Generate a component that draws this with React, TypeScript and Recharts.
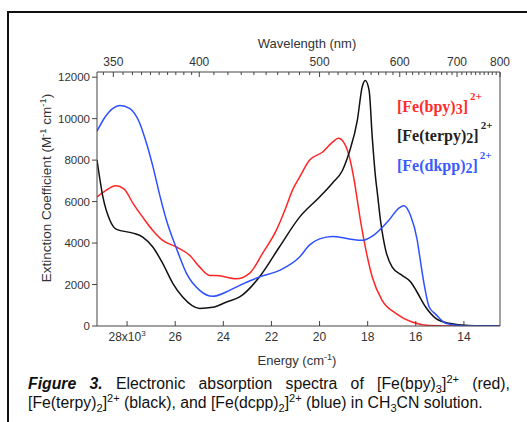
import { LineChart, Line, XAxis, YAxis } from "recharts";

// energies in 10^3 cm-1, extinction in M-1 cm-1, read left to right
const bpyData = [
  { e: 29.25, v: 6230 }, { e: 28.95, v: 6480 }, { e: 28.47, v: 6760 }, { e: 28.12, v: 6600 },
  { e: 27.76, v: 5930 }, { e: 27.35, v: 5250 }, { e: 26.93, v: 4610 }, { e: 26.52, v: 4130 },
  { e: 25.95, v: 3810 }, { e: 25.4, v: 3410 }, { e: 24.98, v: 2840 }, { e: 24.57, v: 2440 },
  { e: 24.17, v: 2420 }, { e: 23.46, v: 2280 }, { e: 22.91, v: 2540 }, { e: 22.37, v: 3500 },
  { e: 21.8, v: 4610 }, { e: 21.39, v: 5740 }, { e: 21.13, v: 6540 }, { e: 20.83, v: 7180 },
  { e: 20.42, v: 7990 }, { e: 19.87, v: 8390 }, { e: 19.46, v: 8870 }, { e: 19.22, v: 9050 },
  { e: 18.97, v: 8810 }, { e: 18.76, v: 8150 }, { e: 18.56, v: 7020 }, { e: 18.43, v: 6060 },
  { e: 18.28, v: 4950 }, { e: 18.07, v: 3650 }, { e: 17.81, v: 2360 }, { e: 17.4, v: 1240 },
  { e: 16.83, v: 610 }, { e: 16.16, v: 190 }, { e: 15.45, v: 30 }, { e: 14.0, v: 0 },
  { e: 12.5, v: 0 },
];

const terpyData = [
  { e: 29.25, v: 8000 }, { e: 29.0, v: 6200 }, { e: 28.71, v: 5090 }, { e: 28.44, v: 4660 },
  { e: 27.76, v: 4480 }, { e: 27.35, v: 4290 }, { e: 26.93, v: 3810 }, { e: 26.52, v: 3020 },
  { e: 26.1, v: 2060 }, { e: 25.69, v: 1400 }, { e: 24.98, v: 850 }, { e: 24.44, v: 900 },
  { e: 23.86, v: 1160 }, { e: 23.32, v: 1400 }, { e: 22.5, v: 2360 }, { e: 21.67, v: 3810 },
  { e: 20.83, v: 5250 }, { e: 20.0, v: 6220 }, { e: 19.46, v: 6900 }, { e: 19.05, v: 7500 },
  { e: 18.76, v: 8400 }, { e: 18.43, v: 9920 }, { e: 18.23, v: 11520 }, { e: 18.1, v: 11840 },
  { e: 17.94, v: 11360 }, { e: 17.81, v: 9110 }, { e: 17.66, v: 7020 }, { e: 17.61, v: 6540 },
  { e: 17.45, v: 4950 }, { e: 17.25, v: 3650 }, { e: 16.98, v: 2840 }, { e: 16.57, v: 2440 },
  { e: 16.21, v: 2120 }, { e: 15.95, v: 1640 }, { e: 15.59, v: 915 }, { e: 15.17, v: 370 },
  { e: 14.62, v: 130 }, { e: 13.8, v: 20 }, { e: 12.5, v: 0 },
];

const dkppData = [
  { e: 29.25, v: 9400 }, { e: 28.92, v: 10070 }, { e: 28.59, v: 10500 }, { e: 28.3, v: 10640 },
  { e: 27.88, v: 10480 }, { e: 27.47, v: 9770 }, { e: 27.19, v: 8800 }, { e: 26.92, v: 7660 },
  { e: 26.64, v: 6300 }, { e: 26.36, v: 5090 }, { e: 25.95, v: 3750 }, { e: 25.53, v: 2540 },
  { e: 24.98, v: 1720 }, { e: 24.44, v: 1430 }, { e: 23.88, v: 1640 }, { e: 23.32, v: 1960 },
  { e: 22.5, v: 2360 }, { e: 21.67, v: 2680 }, { e: 20.83, v: 3330 }, { e: 20.42, v: 3900 },
  { e: 20.0, v: 4200 }, { e: 19.46, v: 4320 }, { e: 18.76, v: 4200 }, { e: 18.23, v: 4130 },
  { e: 17.73, v: 4400 }, { e: 17.12, v: 5100 }, { e: 16.69, v: 5700 }, { e: 16.49, v: 5800 },
  { e: 16.21, v: 5300 }, { e: 15.95, v: 4200 }, { e: 15.79, v: 3000 }, { e: 15.62, v: 1800 },
  { e: 15.45, v: 930 }, { e: 15.17, v: 560 }, { e: 14.76, v: 130 }, { e: 14.21, v: 30 },
  { e: 12.5, v: 0 },
];

const energyTicks = [28, 26, 24, 22, 20, 18, 16, 14];
const yTicks = [0, 2000, 4000, 6000, 8000, 10000, 12000];
const nmMajor = [350, 400, 500, 600, 700, 800];
const nmMinor = [
  345, 355, 360, 365, 370, 375, 380, 385, 390, 395,
  410, 420, 430, 440, 450, 460, 470, 480, 490,
  510, 520, 530, 540, 550, 560, 570, 580, 590,
  610, 620, 630, 640, 650, 660, 670, 680, 690,
  710, 720, 730, 740, 750, 760, 770, 780, 790,
];
const nmTicks = [...nmMajor, ...nmMinor].map((nm) => 10000 / nm);

const axisColor = "#444";
const textColor = "#333";
const font = '"Liberation Sans", Arial, sans-serif';

function TopTick(props: any) {
  const { x, y, payload } = props;
  const nm = Math.round(10000 / payload.value);
  const major = nmMajor.includes(nm);
  return (
    <g>
      <line x1={x} x2={x} y1={y} y2={y + (major ? 5 : 3)} stroke={axisColor} />
      {major && (
        <text x={x} y={y - 6} textAnchor="middle" fontSize={12} fill={textColor} fontFamily={font}>
          {nm}
        </text>
      )}
    </g>
  );
}

function BottomTick(props: any) {
  const { x, y, payload } = props;
  const v = payload.value;
  return (
    <g>
      <line x1={x} x2={x} y1={y} y2={y - 5} stroke={axisColor} />
      <text x={x} y={y + 15} textAnchor="middle" fontSize={12} fill={textColor} fontFamily={font}>
        {v === 28 ? (
          <>
            <tspan>28x10</tspan>
            <tspan dy={-5} fontSize={8}>3</tspan>
          </>
        ) : (
          v
        )}
      </text>
    </g>
  );
}

const sup = { fontSize: "0.7em", verticalAlign: "super", lineHeight: 0 } as const;
const sub = { fontSize: "0.7em", verticalAlign: "sub", lineHeight: 0 } as const;

function LegendItem({ color, top, name, n }: { color: string; top: number; name: string; n: string }) {
  return (
    <div
      style={{
        position: "absolute",
        left: 397,
        top,
        color,
        fontFamily: '"Liberation Serif", "Times New Roman", serif',
        fontWeight: 700,
        fontSize: 16,
        lineHeight: "16px",
        whiteSpace: "nowrap",
      }}
    >
      [Fe({name})<span style={{ fontSize: 14, position: "relative", top: 2 }}>{n}</span>]
      <span style={{ fontSize: 11, position: "relative", top: -12, marginLeft: 2 }}>2+</span>
    </div>
  );
}

export default function App() {
  return (
    <div
      style={{
        position: "absolute",
        left: 0,
        top: 0,
        width: 527,
        height: 422,
        overflow: "hidden",
        background: "#fff",
        fontFamily: font,
      }}
    >
      <div style={{ position: "absolute", left: 7, top: 11, width: 600, height: 500, border: "2px solid #111" }} />
      <div style={{ position: "absolute", left: 0, top: 0 }}>
        <LineChart width={527} height={422} margin={{ top: 42, right: 26, bottom: 56, left: 37 }}>
          <XAxis
            xAxisId="top"
            orientation="top"
            type="number"
            dataKey="e"
            domain={[12.5, 29.25]}
            allowDataOverflow
            reversed
            ticks={nmTicks}
            interval={0}
            tickSize={0}
            tickMargin={0}
            tick={TopTick}
            height={30}
            stroke={axisColor}
          />
          <XAxis
            xAxisId="bottom"
            orientation="bottom"
            type="number"
            dataKey="e"
            domain={[12.5, 29.25]}
            allowDataOverflow
            reversed
            ticks={energyTicks}
            interval={0}
            tickSize={0}
            tickMargin={0}
            tick={BottomTick}
            height={40}
            stroke={axisColor}
          />
          <YAxis
            yAxisId="left"
            domain={[0, 12250]}
            allowDataOverflow
            ticks={yTicks}
            interval={0}
            width={60}
            tickSize={5}
            tickMargin={2}
            stroke={axisColor}
            tick={{ fontSize: 11.5, fill: textColor, fontFamily: font }}
          />
          <YAxis
            yAxisId="right"
            orientation="right"
            domain={[0, 12250]}
            width={1}
            tick={false}
            tickLine={false}
            stroke={axisColor}
          />
          <Line
            xAxisId="bottom"
            yAxisId="left"
            data={bpyData}
            dataKey="v"
            type="monotone"
            stroke="#ff2525"
            strokeWidth={1.5}
            dot={false}
            isAnimationActive={false}
          />
          <Line
            xAxisId="bottom"
            yAxisId="left"
            data={terpyData}
            dataKey="v"
            type="monotone"
            stroke="#111"
            strokeWidth={1.5}
            dot={false}
            isAnimationActive={false}
          />
          <Line
            xAxisId="bottom"
            yAxisId="left"
            data={dkppData}
            dataKey="v"
            type="monotone"
            stroke="#2f50ff"
            strokeWidth={1.5}
            dot={false}
            isAnimationActive={false}
          />
        </LineChart>
      </div>

      <div style={{ position: "absolute", left: 207, top: 37, width: 200, textAlign: "center", fontSize: 13, lineHeight: "13px", color: textColor }}>
        Wavelength (nm)
      </div>
      <div style={{ position: "absolute", left: 197, top: 354, width: 200, textAlign: "center", fontSize: 13, lineHeight: "13px", color: textColor }}>
        Energy (cm<span style={sup}>-1</span>)
      </div>
      <div
        style={{
          position: "absolute",
          left: 47 - 140,
          top: 188 - 7,
          width: 280,
          height: 14,
          textAlign: "center",
          fontSize: 13.5,
          lineHeight: "14px",
          color: textColor,
          transform: "rotate(-90deg)",
          transformOrigin: "center",
          whiteSpace: "nowrap",
        }}
      >
        Extinction Coefficient (M<span style={sup}>-1</span> cm<span style={sup}>-1</span>)
      </div>

      <LegendItem color="#ff2b2b" top={99} name="bpy" n="3" />
      <LegendItem color="#222" top={128} name="terpy" n="2" />
      <LegendItem color="#3a5bff" top={158} name="dkpp" n="2" />

      <div style={{ position: "absolute", left: 28, top: 374, width: 482, fontSize: 15.8, lineHeight: "19px", color: "#111" }}>
        <div style={{ textAlign: "justify", textAlignLast: "justify" }}>
          <b>
            <i>Figure 3.</i>
          </b>{" "}
          Electronic absorption spectra of [Fe(bpy)<span style={sub}>3</span>]<span style={sup}>2+</span> (red),
        </div>
        <div style={{ whiteSpace: "nowrap" }}>
          [Fe(terpy)<span style={sub}>2</span>]<span style={sup}>2+</span> (black), and [Fe(dcpp)<span style={sub}>2</span>]
          <span style={sup}>2+</span> (blue) in CH<span style={sub}>3</span>CN solution.
        </div>
      </div>
    </div>
  );
}
